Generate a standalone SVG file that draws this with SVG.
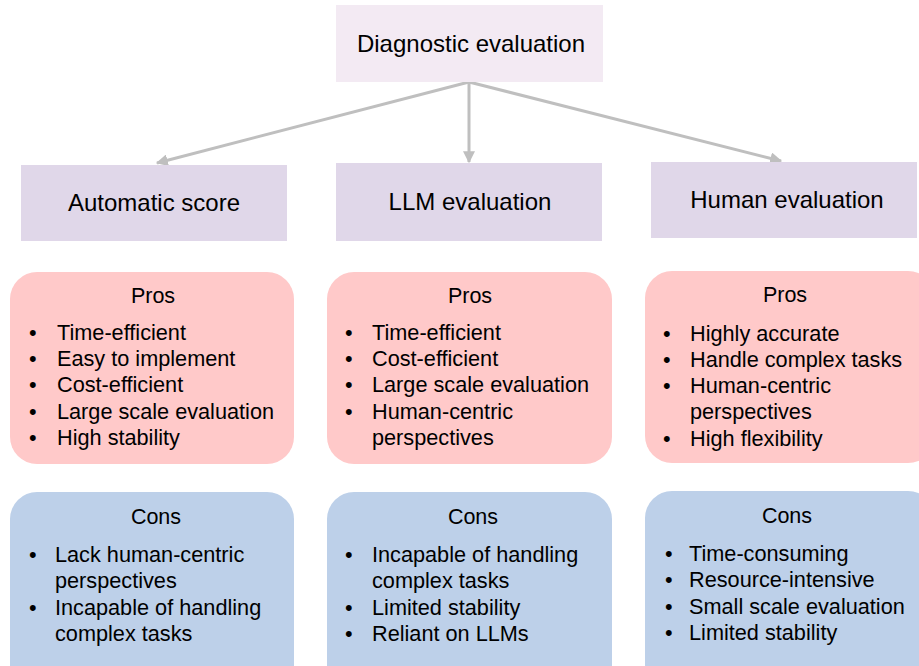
<svg xmlns="http://www.w3.org/2000/svg" width="919" height="666" viewBox="0 0 919 666">
<style>
text{font-family:"Liberation Sans",Arial,sans-serif;fill:#000}
.h{font-size:24px;text-anchor:middle}
.t{font-size:21.5px;text-anchor:middle}
.l{font-size:21.7px}
.top{fill:#f3eaf3}
.cat{fill:#e0d7e9}
.pro{fill:#ffc9c9}
.con{fill:#bdd0e9}
.c{stroke:#bfbfbf;stroke-width:3;fill:none}
</style>
<defs>
<marker id="ah" viewBox="0 0 10 10" refX="9" refY="5" markerWidth="4" markerHeight="4" markerUnits="strokeWidth" orient="auto">
<path d="M0,0 L10,5 L0,10 z" fill="#bfbfbf"/>
</marker>
</defs>
<g id="connectors">
<line class="c" x1="469" y1="82" x2="157" y2="163" marker-end="url(#ah)"/>
<line class="c" x1="469" y1="82" x2="469" y2="162" marker-end="url(#ah)"/>
<line class="c" x1="469" y1="82" x2="781" y2="161" marker-end="url(#ah)"/>
</g>
<g id="root"><rect class="top" x="336" y="5" width="267" height="77"/><text class="h" x="471" y="52">Diagnostic evaluation</text></g>
<g id="auto"><rect class="cat" x="21" y="165" width="266" height="76"/><text class="h" x="154" y="211">Automatic score</text></g>
<g id="llm"><rect class="cat" x="336" y="163" width="266" height="78"/><text class="h" x="470" y="210">LLM evaluation</text></g>
<g id="human"><rect class="cat" x="651" y="162" width="266" height="76"/><text class="h" x="787" y="208">Human evaluation</text></g>

<g id="auto-pros"><rect class="pro" x="10" y="272" width="284" height="192" rx="27"/>
<text class="t" x="153" y="303">Pros</text>
<text class="l" x="29" y="340">•</text><text class="l" x="57" y="340">Time-efficient</text>
<text class="l" x="29" y="366">•</text><text class="l" x="57" y="366">Easy to implement</text>
<text class="l" x="29" y="392">•</text><text class="l" x="57" y="392">Cost-efficient</text>
<text class="l" x="29" y="419">•</text><text class="l" x="57" y="419">Large scale evaluation</text>
<text class="l" x="29" y="445">•</text><text class="l" x="57" y="445">High stability</text>
</g>
<g id="llm-pros"><rect class="pro" x="327" y="272" width="285" height="192" rx="27"/>
<text class="t" x="470" y="303">Pros</text>
<text class="l" x="345" y="340">•</text><text class="l" x="372" y="340">Time-efficient</text>
<text class="l" x="345" y="366">•</text><text class="l" x="372" y="366">Cost-efficient</text>
<text class="l" x="345" y="392">•</text><text class="l" x="372" y="392">Large scale evaluation</text>
<text class="l" x="345" y="419">•</text><text class="l" x="372" y="419">Human-centric</text>
<text class="l" x="372" y="445">perspectives</text>
</g>
<g id="human-pros"><rect class="pro" x="645" y="271" width="290" height="192" rx="27"/>
<text class="t" x="785" y="302">Pros</text>
<text class="l" x="663" y="341">•</text><text class="l" x="690" y="341">Highly accurate</text>
<text class="l" x="663" y="367">•</text><text class="l" x="690" y="367">Handle complex tasks</text>
<text class="l" x="663" y="393">•</text><text class="l" x="690" y="393">Human-centric</text>
<text class="l" x="690" y="419">perspectives</text>
<text class="l" x="663" y="446">•</text><text class="l" x="690" y="446">High flexibility</text>
</g>

<g id="auto-cons"><rect class="con" x="10" y="492" width="284" height="200" rx="27"/>
<text class="t" x="156" y="524">Cons</text>
<text class="l" x="29" y="562">•</text><text class="l" x="55" y="562">Lack human-centric</text>
<text class="l" x="55" y="588">perspectives</text>
<text class="l" x="29" y="615">•</text><text class="l" x="55" y="615">Incapable of handling</text>
<text class="l" x="55" y="641">complex tasks</text>
</g>
<g id="llm-cons"><rect class="con" x="327" y="492" width="285" height="200" rx="27"/>
<text class="t" x="473" y="524">Cons</text>
<text class="l" x="345" y="562">•</text><text class="l" x="372" y="562">Incapable of handling</text>
<text class="l" x="372" y="588">complex tasks</text>
<text class="l" x="345" y="615">•</text><text class="l" x="372" y="615">Limited stability</text>
<text class="l" x="345" y="641">•</text><text class="l" x="372" y="641">Reliant on LLMs</text>
</g>
<g id="human-cons"><rect class="con" x="645" y="491" width="290" height="200" rx="27"/>
<text class="t" x="787" y="523">Cons</text>
<text class="l" x="665" y="561">•</text><text class="l" x="689" y="561">Time-consuming</text>
<text class="l" x="665" y="587">•</text><text class="l" x="689" y="587">Resource-intensive</text>
<text class="l" x="665" y="614">•</text><text class="l" x="689" y="614">Small scale evaluation</text>
<text class="l" x="665" y="640">•</text><text class="l" x="689" y="640">Limited stability</text>
</g>
</svg>
